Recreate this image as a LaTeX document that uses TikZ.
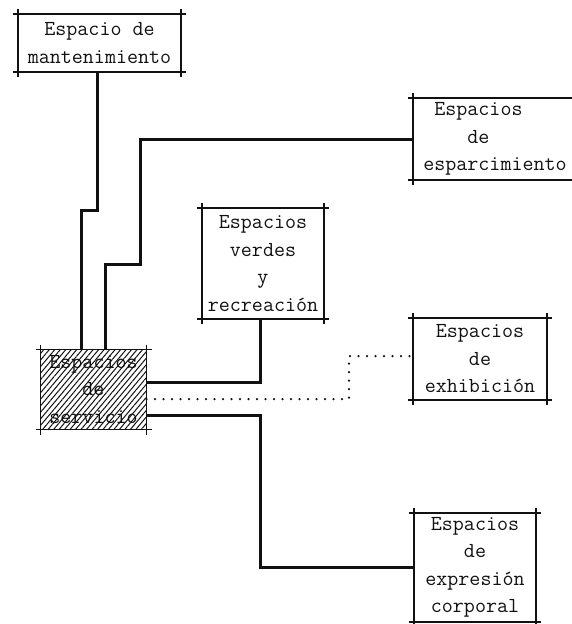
\documentclass[tikz,border=0pt]{standalone}
\usepackage{fontspec}
\usepackage{tikz}
\usetikzlibrary{calc,patterns.meta}
\definecolor{tinta}{HTML}{111111}
\tikzset{
  caja/.style={inner sep=0pt,align=center,text=tinta,font=\ttfamily\fontsize{21.4}{27.5}\selectfont},
  borde/.style={tinta,line width=1.8pt},
  con/.style={tinta,line width=3pt},
  punt/.style={tinta,line width=2.5pt,line cap=round,dash pattern=on 0pt off 8.5pt}
}
\newcommand\marco[1]{%
  \draw[borde] ([xshift=-5pt]#1.north west) -- ([xshift=5pt]#1.north east)
    ([xshift=-5pt]#1.south west) -- ([xshift=5pt]#1.south east)
    ([yshift=5pt]#1.north west) -- ([yshift=-5pt]#1.south west)
    ([yshift=5pt]#1.north east) -- ([yshift=-5pt]#1.south east);}

\begin{document}
\begin{tikzpicture}[x=1pt,y=-1pt]
\clip (0,0) rectangle (572,624);
\node[caja,minimum width=163pt,minimum height=58pt] (mant) at (99.5,43) {Espacio de\\mantenimiento};
\node[caja,align=left,minimum width=164pt,minimum height=82pt] (espar) at (495,139) {\hphantom{x}Espacios\\\hphantom{xxxx}de\\esparcimiento};
\node[caja,minimum width=122pt,minimum height=111pt] (verdes) at (263,263.5) {Espacios\\verdes\\y\\recreación};
\node[caja,minimum width=134pt,minimum height=82pt] (exhib) at (480,359) {Espacios\\de\\exhibición};
\node[caja,minimum width=105pt,minimum height=79pt,pattern={Lines[angle=50,distance=4.2pt,line width=1pt]},pattern color=tinta] (serv) at (93.5,389.5) {Espacios\\de\\servicio};
\node[caja,minimum width=122pt,minimum height=109pt] (expr) at (475,567.5) {Espacios\\de\\expresión\\corporal};
\marco{mant} \marco{espar} \marco{verdes} \marco{exhib} \marco{serv} \marco{expr}
% conexiones
\draw[con] ([xshift=-2.5pt]mant.south) -- ++(0,138) -| (81,0 |- serv.north);
\draw[con] (espar.west) -| (140,264) -| (105,0 |- serv.north);
\draw[con] ([yshift=7.5pt]serv.east) -| ([xshift=-3pt]verdes.south);
\draw[punt] ([yshift=-9.5pt]serv.east) -| (349,356) -- ([yshift=3pt]exhib.west);
\draw[con] ([yshift=-25.5pt]serv.east) -- ++(114,0) |- (expr.west);
\end{tikzpicture}
\end{document}
